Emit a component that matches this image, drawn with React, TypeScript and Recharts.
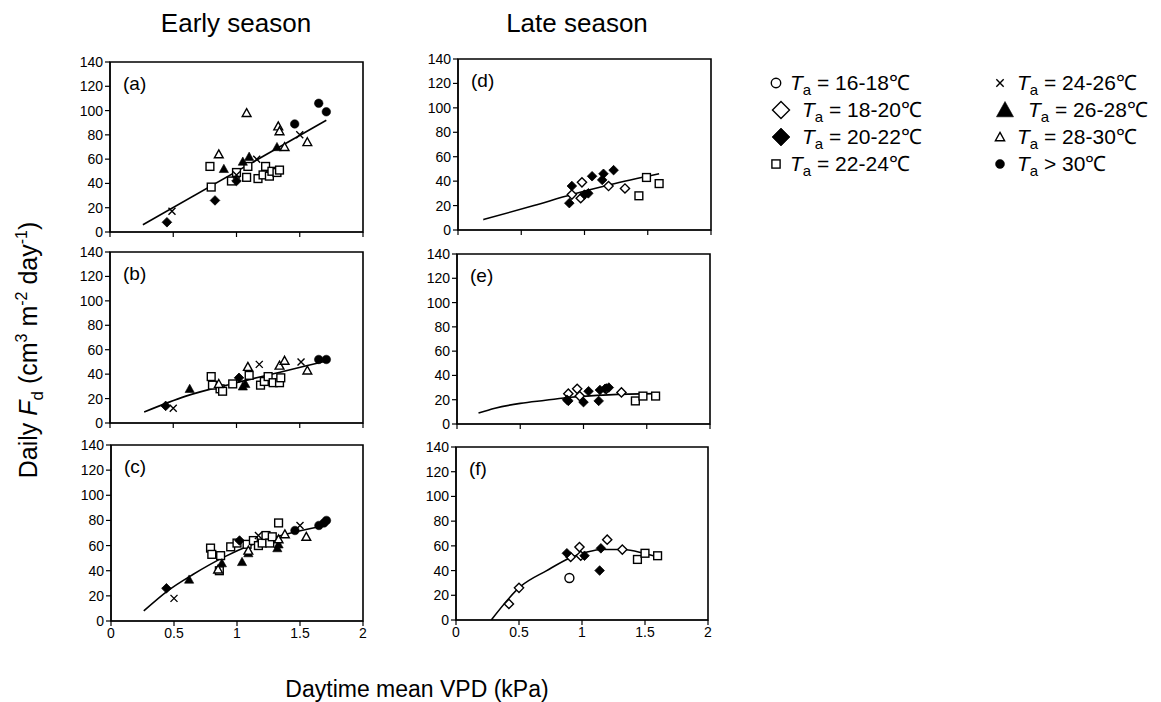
import React from 'react';
import { ScatterChart, Scatter, XAxis, YAxis, ReferenceArea } from 'recharts';

type P = { x: number; y: number };

const X_TICKS = [0, 0.5, 1, 1.5, 2];
const Y_TICKS = [0, 20, 40, 60, 80, 100, 120, 140];

// ---- Panel (a) Early season
const a_t20: P[] = [{ x: 0.45, y: 8 }, { x: 0.83, y: 26 }, { x: 1.0, y: 42 }];
const a_t24: P[] = [{ x: 0.49, y: 17 }, { x: 1.0, y: 47 }, { x: 1.16, y: 60 }, { x: 1.5, y: 80 }];
const a_t26: P[] = [{ x: 0.9, y: 52 }, { x: 1.05, y: 58 }, { x: 1.1, y: 62 }, { x: 1.32, y: 70 }];
const a_t28: P[] = [{ x: 0.86, y: 64 }, { x: 1.08, y: 98 }, { x: 1.33, y: 87 }, { x: 1.34, y: 83 }, { x: 1.38, y: 70 }, { x: 1.56, y: 74 }];
const a_t30: P[] = [{ x: 1.46, y: 89 }, { x: 1.65, y: 106 }, { x: 1.71, y: 99 }];
const a_t22: P[] = [{ x: 0.79, y: 54 }, { x: 0.8, y: 37 }, { x: 0.96, y: 42 }, { x: 1.0, y: 49 }, { x: 1.08, y: 45 }, { x: 1.09, y: 54 }, { x: 1.17, y: 44 }, { x: 1.21, y: 47 }, { x: 1.23, y: 54 }, { x: 1.26, y: 46 }, { x: 1.28, y: 50 }, { x: 1.32, y: 49 }, { x: 1.34, y: 51 }];
const a_fit: P[] = [{ x: 0.26, y: 6 }, { x: 1.71, y: 92 }];

// ---- Panel (b)
const b_t20: P[] = [{ x: 0.44, y: 14 }, { x: 1.02, y: 37 }];
const b_t24: P[] = [{ x: 0.5, y: 12 }, { x: 1.18, y: 48 }, { x: 1.51, y: 50 }];
const b_t26: P[] = [{ x: 0.63, y: 28 }, { x: 1.05, y: 30 }, { x: 1.07, y: 32 }];
const b_t28: P[] = [{ x: 0.86, y: 32 }, { x: 1.09, y: 46 }, { x: 1.34, y: 47 }, { x: 1.38, y: 51 }, { x: 1.56, y: 43 }];
const b_t30: P[] = [{ x: 1.65, y: 52 }, { x: 1.71, y: 52 }];
const b_t22: P[] = [{ x: 0.8, y: 38 }, { x: 0.81, y: 31 }, { x: 0.87, y: 28 }, { x: 0.89, y: 26 }, { x: 0.97, y: 32 }, { x: 1.1, y: 39 }, { x: 1.19, y: 31 }, { x: 1.22, y: 34 }, { x: 1.25, y: 38 }, { x: 1.29, y: 33 }, { x: 1.34, y: 33 }, { x: 1.35, y: 37 }];
const b_fit: P[] = [{ x: 0.27, y: 9 }, { x: 0.6, y: 22 }, { x: 1.0, y: 33 }, { x: 1.4, y: 43 }, { x: 1.72, y: 51 }];

// ---- Panel (c)
const c_t20: P[] = [{ x: 0.44, y: 26 }, { x: 1.02, y: 64 }];
const c_t24: P[] = [{ x: 0.5, y: 18 }, { x: 1.17, y: 68 }, { x: 1.5, y: 76 }];
const c_t26: P[] = [{ x: 0.62, y: 33 }, { x: 0.88, y: 46 }, { x: 1.04, y: 47 }, { x: 1.09, y: 54 }, { x: 1.32, y: 58 }, { x: 1.33, y: 61 }];
const c_t28: P[] = [{ x: 0.85, y: 41 }, { x: 1.09, y: 56 }, { x: 1.33, y: 65 }, { x: 1.38, y: 69 }, { x: 1.55, y: 67 }];
const c_t30: P[] = [{ x: 1.46, y: 72 }, { x: 1.65, y: 76 }, { x: 1.69, y: 78 }, { x: 1.71, y: 80 }];
const c_t22: P[] = [{ x: 0.79, y: 58 }, { x: 0.8, y: 53 }, { x: 0.87, y: 52 }, { x: 0.86, y: 40 }, { x: 0.95, y: 59 }, { x: 1.0, y: 62 }, { x: 1.08, y: 61 }, { x: 1.13, y: 64 }, { x: 1.17, y: 60 }, { x: 1.2, y: 62 }, { x: 1.23, y: 68 }, { x: 1.26, y: 62 }, { x: 1.28, y: 67 }, { x: 1.33, y: 78 }];
const c_fit: P[] = [{ x: 0.26, y: 8 }, { x: 0.45, y: 24 }, { x: 0.65, y: 37 }, { x: 0.9, y: 51 }, { x: 1.1, y: 60 }, { x: 1.35, y: 68 }, { x: 1.7, y: 76 }];

// ---- Panel (d) Late season
const d_t18: P[] = [{ x: 0.9, y: 29 }, { x: 0.97, y: 26 }, { x: 0.98, y: 39 }, { x: 1.19, y: 36 }, { x: 1.32, y: 34 }];
const d_t20: P[] = [{ x: 0.88, y: 22 }, { x: 0.9, y: 36 }, { x: 1.0, y: 29 }, { x: 1.03, y: 30 }, { x: 1.06, y: 44 }, { x: 1.14, y: 41 }, { x: 1.15, y: 46 }, { x: 1.23, y: 49 }];
const d_t22: P[] = [{ x: 1.43, y: 28 }, { x: 1.49, y: 43 }, { x: 1.59, y: 38 }];
const d_fit: P[] = [{ x: 0.2, y: 8.5 }, { x: 0.6, y: 20 }, { x: 0.9, y: 29 }, { x: 1.2, y: 37 }, { x: 1.59, y: 46 }];

// ---- Panel (e)
const e_t18: P[] = [{ x: 0.88, y: 25 }, { x: 0.95, y: 29 }, { x: 0.97, y: 23 }, { x: 1.18, y: 29 }, { x: 1.3, y: 26 }];
const e_t20: P[] = [{ x: 0.87, y: 20 }, { x: 0.88, y: 19 }, { x: 1.0, y: 18 }, { x: 1.04, y: 27 }, { x: 1.12, y: 19 }, { x: 1.13, y: 28 }, { x: 1.17, y: 29 }, { x: 1.2, y: 30 }];
const e_t22: P[] = [{ x: 1.41, y: 19 }, { x: 1.47, y: 23 }, { x: 1.57, y: 23 }];
const e_fit: P[] = [{ x: 0.17, y: 9 }, { x: 0.3, y: 13 }, { x: 0.5, y: 17 }, { x: 0.7, y: 19.5 }, { x: 0.9, y: 22 }, { x: 1.2, y: 24 }, { x: 1.57, y: 25 }];

// ---- Panel (f)
const f_t16: P[] = [{ x: 0.9, y: 34 }];
const f_t18: P[] = [{ x: 0.42, y: 13 }, { x: 0.5, y: 26 }, { x: 0.91, y: 51 }, { x: 0.98, y: 59 }, { x: 0.99, y: 52 }, { x: 1.2, y: 65 }, { x: 1.32, y: 57 }];
const f_t20: P[] = [{ x: 0.88, y: 54 }, { x: 1.02, y: 52 }, { x: 1.15, y: 58 }, { x: 1.14, y: 40 }];
const f_t22: P[] = [{ x: 1.44, y: 49 }, { x: 1.5, y: 54 }, { x: 1.6, y: 52 }];
const f_fit: P[] = [{ x: 0.28, y: 0 }, { x: 0.51, y: 27 }, { x: 0.72, y: 40 }, { x: 0.9, y: 50 }, { x: 1.04, y: 55 }, { x: 1.17, y: 57 }, { x: 1.33, y: 57 }, { x: 1.49, y: 54 }, { x: 1.6, y: 51 }];

// ---- Legend
const LEGEND_KEYS = ['t16', 't18', 't20', 't22', 't24', 't26', 't28', 't30'];
const LEGEND_RANGES = ['= 16-18\u2103', '= 18-20\u2103', '= 20-22\u2103', '= 22-24\u2103', '= 24-26\u2103', '= 26-28\u2103', '= 28-30\u2103', '> 30\u2103'];

const FONT = 'Arial, "Liberation Sans", Helvetica, sans-serif';

type Kind = 't16' | 't18' | 't20' | 't22' | 't24' | 't26' | 't28' | 't30';

function drawMarker(kind: string, cx: number, cy: number, s: number) {
  const sw = 1.4;
  switch (kind) {
    case 't16':
      return <circle cx={cx} cy={cy} r={4.5 * s} fill="#fff" stroke="#000" strokeWidth={sw} />;
    case 't18': {
      const r = 4.6 * s;
      return <polygon points={`${cx},${cy - r} ${cx + r},${cy} ${cx},${cy + r} ${cx - r},${cy}`} fill="#fff" stroke="#000" strokeWidth={sw} />;
    }
    case 't20': {
      const r = 4.8 * s;
      return <polygon points={`${cx},${cy - r} ${cx + r},${cy} ${cx},${cy + r} ${cx - r},${cy}`} fill="#000" stroke="#000" strokeWidth={0.8} />;
    }
    case 't22': {
      const h = 3.9 * s;
      return <rect x={cx - h} y={cy - h} width={2 * h} height={2 * h} fill="#fff" stroke="#000" strokeWidth={sw} />;
    }
    case 't24': {
      const h = 3.5 * s;
      return <path d={`M${cx - h},${cy - h}L${cx + h},${cy + h}M${cx - h},${cy + h}L${cx + h},${cy - h}`} stroke="#000" strokeWidth={sw} fill="none" />;
    }
    case 't26': {
      const h = 4.6 * s;
      return <polygon points={`${cx},${cy - h} ${cx + h},${cy + h * 0.8} ${cx - h},${cy + h * 0.8}`} fill="#000" stroke="#000" strokeWidth={0.6} />;
    }
    case 't28': {
      const h = 4.4 * s;
      return <polygon points={`${cx},${cy - h} ${cx + h},${cy + h * 0.8} ${cx - h},${cy + h * 0.8}`} fill="#fff" stroke="#000" strokeWidth={sw} />;
    }
    case 't30':
    default:
      return <circle cx={cx} cy={cy} r={4.3 * s} fill="#000" stroke="#000" strokeWidth={0.5} />;
  }
}

const shapeFor = (kind: Kind) => (props: any) => {
  const { cx, cy } = props;
  if (cx == null || cy == null) return <g />;
  return drawMarker(kind, cx, cy, 1);
};

const emptyShape = () => <g />;

type SeriesDef = { kind: Kind; data: P[] };
type PanelDef = {
  label: string;
  left: number; top: number; right: number; bottom: number;
  showX: boolean;
  series: SeriesDef[];
  fit: P[];
};

const PANELS: PanelDef[] = [
  { label: '(a)', left: 110, top: 62, right: 363, bottom: 232, showX: false, fit: a_fit,
    series: [{ kind: 't22', data: a_t22 }, { kind: 't20', data: a_t20 }, { kind: 't24', data: a_t24 }, { kind: 't26', data: a_t26 }, { kind: 't28', data: a_t28 }, { kind: 't30', data: a_t30 }] },
  { label: '(b)', left: 110, top: 252, right: 363, bottom: 423, showX: false, fit: b_fit,
    series: [{ kind: 't22', data: b_t22 }, { kind: 't20', data: b_t20 }, { kind: 't24', data: b_t24 }, { kind: 't26', data: b_t26 }, { kind: 't28', data: b_t28 }, { kind: 't30', data: b_t30 }] },
  { label: '(c)', left: 111, top: 445, right: 363, bottom: 621, showX: true, fit: c_fit,
    series: [{ kind: 't22', data: c_t22 }, { kind: 't20', data: c_t20 }, { kind: 't24', data: c_t24 }, { kind: 't26', data: c_t26 }, { kind: 't28', data: c_t28 }, { kind: 't30', data: c_t30 }] },
  { label: '(d)', left: 458, top: 59, right: 711, bottom: 230, showX: false, fit: d_fit,
    series: [{ kind: 't18', data: d_t18 }, { kind: 't20', data: d_t20 }, { kind: 't22', data: d_t22 }] },
  { label: '(e)', left: 457, top: 254, right: 710, bottom: 424, showX: false, fit: e_fit,
    series: [{ kind: 't18', data: e_t18 }, { kind: 't20', data: e_t20 }, { kind: 't22', data: e_t22 }] },
  { label: '(f)', left: 456, top: 447, right: 708, bottom: 620, showX: true, fit: f_fit,
    series: [{ kind: 't16', data: f_t16 }, { kind: 't18', data: f_t18 }, { kind: 't20', data: f_t20 }, { kind: 't22', data: f_t22 }] },
];

const ML = 44, MT = 10, MR = 10, XH = 26;

function Panel({ p }: { p: PanelDef }) {
  const w = p.right - p.left + ML + MR;
  const h = p.bottom - p.top + MT + XH;
  const tickStyle = { fill: '#000', fontSize: 14, fontFamily: FONT };
  return (
    <div style={{ position: 'absolute', left: p.left - ML, top: p.top - MT, width: w, height: h }}>
      <ScatterChart width={w} height={h} margin={{ top: MT, right: MR, bottom: 0, left: 0 }}>
        <XAxis type="number" dataKey="x" domain={[0, 2]} ticks={X_TICKS} interval={0} allowDataOverflow
          height={XH} axisLine={{ stroke: '#000', strokeWidth: 1.2 }} tickLine={{ stroke: '#000', strokeWidth: 1.2 }} tickSize={5}
          tick={tickStyle} tickFormatter={(v: number) => (p.showX ? String(v) : '')} />
        <YAxis type="number" dataKey="y" domain={[0, 140]} ticks={Y_TICKS} interval={0} allowDataOverflow
          width={ML} axisLine={{ stroke: '#000', strokeWidth: 1.2 }} tickLine={{ stroke: '#000', strokeWidth: 1.2 }} tickSize={5}
          tick={tickStyle} />
        <ReferenceArea x1={0} x2={2} y1={0} y2={140} fill="none" fillOpacity={0} stroke="#000" strokeWidth={1.6} ifOverflow="visible" />
        <Scatter data={p.fit} line={{ stroke: '#000', strokeWidth: 1.6 }} lineJointType="monotoneX" shape={emptyShape} isAnimationActive={false} />
        {p.series.map((s, i) => (
          <Scatter key={i} data={s.data} shape={shapeFor(s.kind)} isAnimationActive={false} />
        ))}
      </ScatterChart>
    </div>
  );
}

function LegendItem({ kind, text, mx, tx, y }: { kind: string; text: string; mx: number; tx: number; y: number }) {
  const big = kind === 't18' || kind === 't20' || kind === 't26';
  return (
    <g>
      {drawMarker(kind, mx, y - 7, big ? 1.85 : 1.05)}
      <text x={tx} y={y} fontSize={21} fontFamily={FONT} fill="#000">
        <tspan fontStyle="italic">T</tspan>
        <tspan fontSize={15} dy={5}>a</tspan>
        <tspan dy={-5}>{' ' + text}</tspan>
      </text>
    </g>
  );
}

export default function App() {
  const rowsY = [90, 117, 144, 171];
  return (
    <div style={{ position: 'absolute', left: 0, top: 0, width: 1161, height: 702, background: '#fff', overflow: 'hidden' }}>
      {PANELS.map((p, i) => <Panel key={i} p={p} />)}
      <svg width={1161} height={702} style={{ position: 'absolute', left: 0, top: 0, pointerEvents: 'none' }}>
        <text x={236} y={32} fontSize={26} fontFamily={FONT} textAnchor="middle" fill="#000">Early season</text>
        <text x={577} y={32} fontSize={26} fontFamily={FONT} textAnchor="middle" fill="#000">Late season</text>
        {PANELS.map((p, i) => (
          <text key={i} x={p.left + 13} y={p.top + 28} fontSize={19} fontFamily={FONT} fill="#000">{p.label}</text>
        ))}
        <text x={417} y={697} fontSize={23} fontFamily={FONT} textAnchor="middle" fill="#000">Daytime mean VPD (kPa)</text>
        <text transform="translate(37,350) rotate(-90)" fontSize={25} fontFamily={FONT} textAnchor="middle" fill="#000">
          Daily <tspan fontStyle="italic">F</tspan><tspan fontSize={17} dy={6}>d</tspan><tspan dy={-6}> (cm</tspan><tspan fontSize={16} dy={-10}>3</tspan><tspan dy={10}> m</tspan><tspan fontSize={16} dy={-10}>-2</tspan><tspan dy={10}> day</tspan><tspan fontSize={16} dy={-10}>-1</tspan><tspan dy={10}>)</tspan>
        </text>
        {LEGEND_KEYS.slice(0, 4).map((k, i) => (
          <LegendItem key={k} kind={k} text={LEGEND_RANGES[i]} mx={i === 1 || i === 2 ? 781 : 776} tx={i === 1 || i === 2 ? 802 : 790} y={rowsY[i]} />
        ))}
        {LEGEND_KEYS.slice(4).map((k, i) => (
          <LegendItem key={k} kind={k} text={LEGEND_RANGES[i + 4]} mx={i === 1 ? 1005 : 1000} tx={i === 1 ? 1028 : 1017} y={rowsY[i]} />
        ))}
      </svg>
    </div>
  );
}
